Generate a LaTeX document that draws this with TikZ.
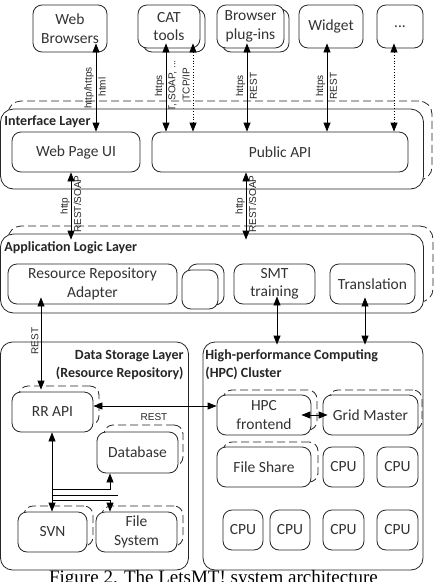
\documentclass[tikz,border=0pt]{standalone}
\usepackage{fontspec}
\setmainfont{Carlito}
\newfontfamily\arialf{Liberation Sans}
\newfontfamily\timesf{Liberation Serif}
\usetikzlibrary{arrows.meta,calc}
\begin{document}
\begin{tikzpicture}[x=1pt,y=-1pt,line width=0.8pt,
  box/.style={draw=black!85, rounded corners=9pt, fill=white, inner sep=0pt, align=center, text=black!80, font=\fontsize{15.5}{18.5}\selectfont},
  ghost/.style={box, fill=none, dash pattern=on 8pt off 4pt},
  layer/.style={draw=black!85, rounded corners=13pt, fill=white, inner sep=0pt},
  layerd/.style={layer, fill=none, dash pattern=on 8pt off 4pt},
  ttl/.style={font=\bfseries\fontsize{14}{17}\selectfont, text=black!85, inner sep=0pt},
  lab/.style={font=\arialf\fontsize{10}{11}\selectfont, rotate=90, inner sep=0pt, text=black!85},
  hlab/.style={font=\arialf\fontsize{10}{11}\selectfont, inner sep=0pt, text=black!85},
  arr/.style={{Triangle[length=9pt,width=7pt]}-{Triangle[length=9pt,width=7pt]}},
  arrE/.style={-{Triangle[length=9pt,width=7pt]}}
]
\useasboundingbox (0,0) rectangle (438,582);

% x columns
\coordinate (xWeb) at (96,0);
\coordinate (xCat) at (166,0);
\coordinate (xTcp) at (193,0);
\coordinate (xPlug) at (247,0);
\coordinate (xWid) at (327,0);
\coordinate (xDot) at (394,0);
\coordinate (xUi) at (71,0);
\coordinate (xApi) at (246,0);
\coordinate (xRra) at (41,0);
\coordinate (xSmt) at (277,0);
\coordinate (xTr) at (365,0);
\coordinate (xRr) at (52,0);
\coordinate (xBr) at (110,0);
\coordinate (yH) at (0,406);
\coordinate (yB1) at (0,489);
\coordinate (yB2) at (0,495);
\coordinate (yB3) at (0,500);

% top clients
\node[box, minimum width=74pt, minimum height=47pt] (web) at (70,28.5) {Web\\Browsers};
\node[box, minimum width=62pt, minimum height=43pt] (catb) at (174,30.5) {};
\node[box, minimum width=62pt, minimum height=43pt] (cat) at (169,26.5) {CAT\\tools};
\node[box, minimum width=67pt, minimum height=43pt] (plugb) at (255.5,30.5) {};
\node[box, minimum width=67pt, minimum height=43pt] (plug) at (250.5,26.5) {Browser\\plug-ins};
\node[box, minimum width=64pt, minimum height=43pt] (widget) at (331,26.5) {Widget};
\node[box, minimum width=46pt, minimum height=43pt] (dots) at (400,26.5) {...};

% protocol labels (behind the interface layer)
\node[lab] (l1) at (89,88) {http/https};
\node[lab] (l2) at (102,87) {html};
\node[lab] (l3) at (159.5,86) {https};
\node[lab] (l4) at (172.5,96) {REST, SOAP, ...};
\node[lab] (l5) at (186,84) {TCP/IP};
\node[lab] (l6) at (240.5,86) {https};
\node[lab] (l7) at (253.5,86) {REST};
\node[lab] (l8) at (320.5,86) {https};
\node[lab] (l9) at (333.5,86) {REST};

% interface layer
\node[layerd, minimum width=424pt, minimum height=79pt] (ifld) at (220,140.5) {};
\node[layer, minimum width=423pt, minimum height=80pt] (ifl) at (212,149) {};
\node[ttl, anchor=west] (iflt) at (4,122) {Interface Layer};
\node[box, minimum width=128pt, minimum height=40pt] (ui) at (76,152) {Web Page UI};
\node[box, minimum width=256pt, minimum height=40pt] (api) at (280,152) {Public API};

% application logic layer
\node[layerd, minimum width=425pt, minimum height=76pt] (appd) at (220.5,264) {};
\node[layer, minimum width=423pt, minimum height=79pt] (app) at (212,273.5) {};
\node[ttl, anchor=west] (appt) at (4,248) {Application Logic Layer};
\node[box, minimum width=169pt, minimum height=40pt] (rra) at (92.5,284) {Resource Repository\\Adapter};
\node[box, minimum width=36pt, minimum height=41pt] (blankb) at (206,284.5) {};
\node[box, minimum width=36pt, minimum height=39pt] (blank) at (200,289.5) {};
\node[box, minimum width=81pt, minimum height=40pt] (smt) at (274.5,284) {SMT\\training};
\node[box, minimum width=85pt, minimum height=40pt] (trans) at (372.5,284) {Translation};

\node[lab] (l10) at (65,206) {http};
\node[lab] (l11) at (77.5,204) {REST/SOAP};
\node[lab] (l12) at (240,206) {http};
\node[lab] (l13) at (252.5,204) {REST/SOAP};

% data storage layer
\node[layer, rounded corners=12pt, minimum width=188pt, minimum height=228pt] (dsl) at (94.5,456) {};
\node[ttl, anchor=east] (dslt1) at (184,356) {Data Storage Layer};
\node[ttl, anchor=east] (dslt2) at (184,373.5) {(Resource Repository)};
\node[ghost, minimum width=80pt, minimum height=39pt] (rrapib) at (59,405.5) {};
\node[box, minimum width=81pt, minimum height=40pt] (rrapi) at (52.5,412) {RR API};
\node[ghost, minimum width=79pt, minimum height=41pt] (dbb) at (143.5,445.5) {};
\node[box, minimum width=81pt, minimum height=41pt] (db) at (137.5,452.5) {Database};
\node[ghost, minimum width=69pt, minimum height=40pt] (svnb) at (58.5,526) {};
\node[box, minimum width=69pt, minimum height=40pt] (svn) at (52.5,532) {SVN};
\node[ghost, minimum width=81pt, minimum height=40pt] (fsb) at (142.5,526) {};
\node[box, minimum width=81pt, minimum height=40pt] (fs) at (136.5,532) {File\\System};
\node[hlab] (l15) at (154,417) {REST};

% HPC cluster
\node[layer, rounded corners=12pt, minimum width=220pt, minimum height=228pt] (hpc) at (313,456) {};
\node[ttl, anchor=west] (hpct1) at (205,356) {High-performance Computing};
\node[ttl, anchor=west] (hpct2) at (205,373.5) {(HPC) Cluster};
\node[ghost, minimum width=94pt, minimum height=40pt] (hfb) at (270,410) {};
\node[box, minimum width=94pt, minimum height=40pt] (hf) at (264,415) {HPC\\frontend};
\node[ghost, minimum width=93pt, minimum height=40pt] (gmb) at (375.5,410) {};
\node[box, minimum width=95pt, minimum height=40pt] (gm) at (370.5,415) {Grid Master};
\node[ghost, minimum width=95pt, minimum height=40pt] (fshb) at (270.5,462) {};
\node[box, minimum width=94pt, minimum height=40pt] (fsh) at (264,467) {File Share};
\node[box, minimum width=41pt, minimum height=40pt] (cpu1) at (343.5,467) {CPU};
\node[box, minimum width=41pt, minimum height=40pt] (cpu2) at (397.5,467) {CPU};
\node[box, minimum width=40pt, minimum height=40pt] (cpu3) at (243,530) {CPU};
\node[box, minimum width=40pt, minimum height=40pt] (cpu4) at (290,530) {CPU};
\node[box, minimum width=41pt, minimum height=40pt] (cpu5) at (343.5,530) {CPU};
\node[box, minimum width=41pt, minimum height=40pt] (cpu6) at (397.5,530) {CPU};

% connectors
\draw[arr] ($(web.south -| xWeb)+(0,-9)$) -- (ui.north -| xWeb);
\draw[arr] ($(cat.south -| xCat)+(0,-5)$) -- (api.north -| xCat);
\draw[arr, dotted] ($(cat.south -| xTcp)+(0,-5)$) -- (api.north -| xTcp);
\draw[arr] ($(plug.south -| xPlug)+(0,-5)$) -- (api.north -| xPlug);
\draw[arr] ($(widget.south -| xWid)+(0,-5)$) -- (api.north -| xWid);
\draw[arr, dotted] ($(dots.south -| xDot)+(0,-5)$) -- (api.north -| xDot);
\draw[arr] (ui.south -| xUi) -- ($(app.north -| xUi)+(0,6)$);
\draw[arr] (api.south -| xApi) -- ($(app.north -| xApi)+(0,6)$);
\draw[arr] ($(rra.south -| xRra)+(0,-7)$) -- ($(rrapi.north -| xRra)+(0,-2)$);
\draw[arr] ($(smt.south -| xSmt)+(0,-8)$) -- ($(hpc.north -| xSmt)+(0,3)$);
\draw[arr] ($(trans.south -| xTr)+(0,-7)$) -- ($(hpc.north -| xTr)+(0,3)$);
\draw[arr] (rrapi.east |- yH) -- (hf.west |- yH);
\draw[arr] (rrapi.south -| xRr) -- (svn.north -| xRr);
\draw[arrE] (xRr |- yB1) -| (db.south -| xBr);
\draw (xRr |- yB2) -- ($(xBr |- yB2)+(8,0)$);
\draw[arrE] (xRr |- yB3) -| (fs.north -| xBr);
\draw[arr] ($(hf.east)+(-10,0)$) -- ($(gm.west)+(5,0)$);
\node[lab] (l14) at (35,341) {REST};

% caption (cut by the page edge, as in the reference)
\node[font=\timesf\fontsize{19}{22}\selectfont, anchor=base, inner sep=0pt] (cap) at (213.5,583) {Figure 2. The LetsMT! system architecture};
\end{tikzpicture}
\end{document}
